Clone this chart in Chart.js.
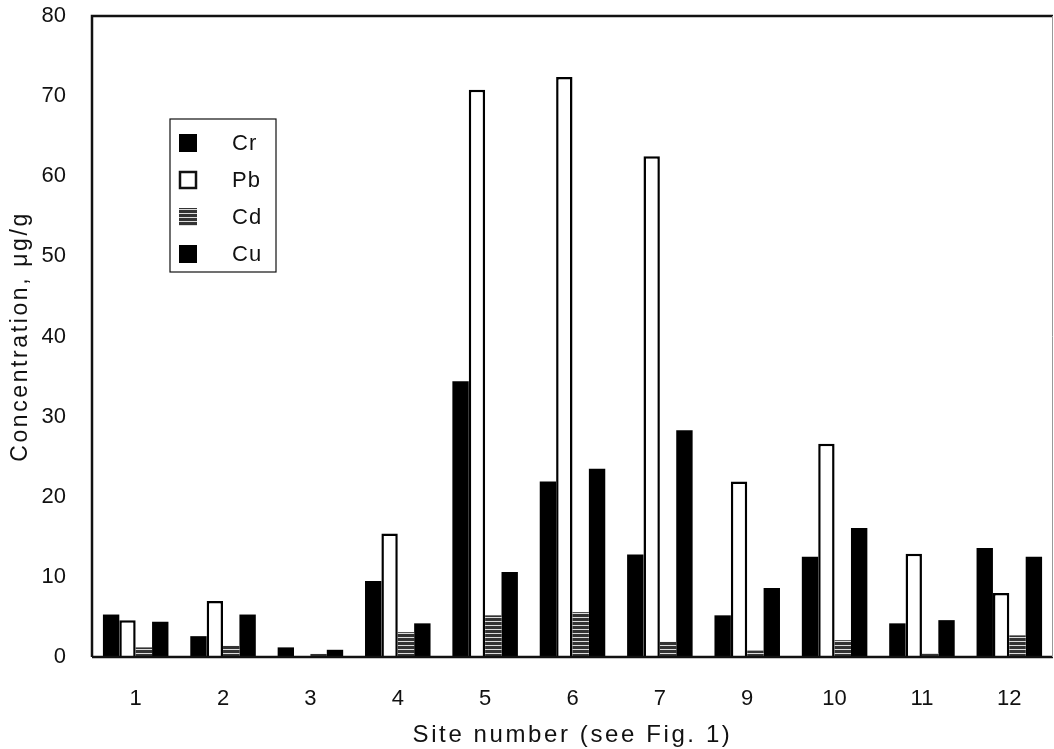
<!DOCTYPE html>
<html>
<head>
<meta charset="utf-8">
<script src="https://cdn.jsdelivr.net/npm/chart.js@4.4.1/dist/chart.umd.min.js"></script>
<style>
  html, body { margin: 0; padding: 0; background: #fff; overflow: hidden; }
  #wrap { position: relative; width: 1054px; height: 749px; }
</style>
</head>
<body>
<div id="wrap"><canvas id="chart"></canvas></div>
<script>
// sites (site 8 is missing in the figure)
const sites = ['1', '2', '3', '4', '5', '6', '7', '9', '10', '11', '12'];

// concentrations, ug/g
const cr = [5.3, 2.6, 1.2, 9.5, 34.4, 21.9, 12.8, 5.2, 12.5, 4.2, 13.6];
const pb = [4.6, 7.0, 0.0, 15.4, 70.8, 72.4, 62.5, 21.9, 26.6, 12.9, 8.0];
const cd = [1.2, 1.4, 0.4, 3.1, 5.2, 5.6, 1.9, 0.8, 2.1, 0.5, 2.7];
const cu = [4.4, 5.3, 0.9, 4.2, 10.6, 23.5, 28.3, 8.6, 16.1, 4.6, 12.5];

const yTicks = [0, 10, 20, 30, 40, 50, 60, 70, 80];

const xTitle = 'Site number (see Fig. 1)';
const yTitle = 'Concentration, μg/g';

const FONT = 'Liberation Sans, Arial, sans-serif';
const INK = '#111';

// hatched fill for Cd: dark gray with light horizontal lines
function stripePattern() {
    const c = document.createElement('canvas');
    c.width = 4; c.height = 4;
    const g = c.getContext('2d');
    g.fillStyle = '#333';
    g.fillRect(0, 0, 4, 4);
    g.fillStyle = '#ddd';
    g.fillRect(0, 1, 4, 1);
    return g.createPattern(c, 'repeat');
}
const cdFill = stripePattern();

// box legend inside the plot, upper left
const boxLegend = {
    id: 'boxLegend',
    afterDraw(chart) {
        const ctx = chart.ctx;
        const x0 = 170, y0 = 119, w = 106, h = 153;
        ctx.save();
        ctx.strokeStyle = INK;
        ctx.lineWidth = 1.2;
        ctx.strokeRect(x0, y0, w, h);
        ctx.font = '22px ' + FONT;
        ctx.letterSpacing = '1px';
        ctx.textBaseline = 'middle';
        chart.data.datasets.forEach((ds, i) => {
            const cy = 143 + i * 37;
            ctx.fillStyle = ds.backgroundColor;
            ctx.fillRect(179, cy - 9, 18, 18);
            if (ds.borderWidth) {
                ctx.strokeStyle = INK;
                ctx.lineWidth = 2.5;
                ctx.strokeRect(180, cy - 8, 16, 16);
            }
            ctx.fillStyle = INK;
            ctx.fillText(ds.label, 232, cy + 1);
        });
        ctx.restore();
    }
};

// axis titles, spaced out like the original typesetting
const axisTitles = {
    id: 'axisTitles',
    afterDraw(chart) {
        const a = chart.chartArea, ctx = chart.ctx;
        ctx.save();
        ctx.fillStyle = INK;
        ctx.textAlign = 'center';
        ctx.textBaseline = 'middle';
        ctx.letterSpacing = '2.6px';
        ctx.font = '24px ' + FONT;
        ctx.fillText(xTitle, (a.left + a.right) / 2, 735);
        ctx.font = '23px ' + FONT;
        ctx.translate(21, (a.top + a.bottom) / 2);
        ctx.rotate(-Math.PI / 2);
        ctx.fillText(yTitle, 0, 0);
        ctx.restore();
    }
};

// frame: heavy left/top/bottom, light right edge
const frame = {
    id: 'frame',
    afterDatasetsDraw(chart) {
        const a = chart.chartArea, ctx = chart.ctx;
        ctx.save();
        ctx.strokeStyle = INK;
        ctx.lineWidth = 2.5;
        ctx.beginPath();
        ctx.moveTo(a.left, a.bottom);
        ctx.lineTo(a.left, a.top);
        ctx.lineTo(a.right, a.top);
        ctx.moveTo(a.left, a.bottom);
        ctx.lineTo(a.right, a.bottom);
        ctx.stroke();
        ctx.lineWidth = 1;
        ctx.strokeStyle = '#999';
        ctx.beginPath();
        ctx.moveTo(a.right - 0.5, a.top);
        ctx.lineTo(a.right - 0.5, a.bottom);
        ctx.stroke();
        ctx.restore();
    }
};

const ctx = document.getElementById('chart').getContext('2d');
new Chart(ctx, {
    type: 'bar',
    data: {
        labels: sites,
        datasets: [
            { label: 'Cr', data: cr, backgroundColor: '#000', borderWidth: 0 },
            { label: 'Pb', data: pb, backgroundColor: '#fff', borderColor: '#000', borderWidth: 2.5 },
            { label: 'Cd', data: cd, backgroundColor: cdFill, borderWidth: 0 },
            { label: 'Cu', data: cu, backgroundColor: '#000', borderWidth: 0 }
        ]
    },
    options: {
        responsive: true,
        maintainAspectRatio: false,
        animation: false,
        layout: { padding: { top: 16, right: 1, left: 0, bottom: 0 } },
        datasets: { bar: { barPercentage: 1.0, categoryPercentage: 0.75 } },
        plugins: {
            legend: { display: false },
            tooltip: { enabled: false }
        },
        scales: {
            x: {
                grid: { display: false, drawTicks: false },
                border: { display: false },
                ticks: { color: INK, font: { family: FONT, size: 22 }, padding: 29 },
                afterFit(scale) {
                    scale.height = 92;
                    scale.paddingLeft = 0;
                    scale.paddingRight = 0;
                }
            },
            y: {
                min: 0,
                max: 80,
                afterBuildTicks(scale) { scale.ticks = yTicks.map(v => ({ value: v })); },
                grid: { display: false, drawTicks: false },
                border: { display: false },
                ticks: { color: INK, font: { family: FONT, size: 22 }, padding: 26 },
                afterFit(scale) {
                    scale.width = 92;
                    scale.paddingTop = 0;
                    scale.paddingBottom = 0;
                }
            }
        }
    },
    plugins: [frame, boxLegend, axisTitles]
});
</script>
</body>
</html>
